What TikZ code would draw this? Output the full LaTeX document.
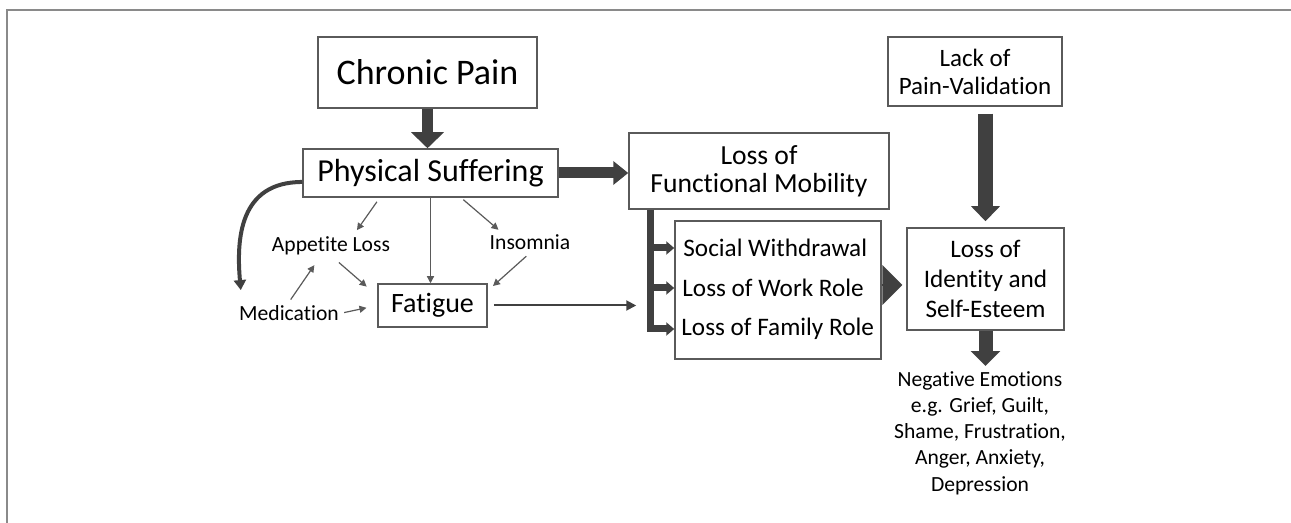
\documentclass[tikz,border=0pt]{standalone}
\usepackage{fontspec}
\setmainfont{Carlito}[Ligatures=NoCommon]
\usetikzlibrary{arrows.meta}
\definecolor{boxgray}{HTML}{5A5A5A}
\definecolor{arrowgray}{HTML}{404040}
\definecolor{framegray}{HTML}{8A8A8A}

\begin{document}
\begin{tikzpicture}[x=0.5pt,y=-0.5pt,
  box/.style={draw=boxgray,line width=0.75pt,align=center,inner sep=0pt},
  lbl/.style={font=\fontsize{10.8}{13.1}\selectfont,inner sep=1.5pt,align=center},
  rolelbl/.style={font=\fontsize{12.6}{15}\selectfont,inner sep=0pt,anchor=west},
  blockarrow/.style={arrowgray,line width=5.5pt,-{Triangle[width=16pt,length=8pt]}},
  branch/.style={arrowgray,line width=3.5pt,-{Triangle[width=6.5pt,length=4pt]}},
  smallarrow/.style={boxgray,line width=0.6pt,-{Triangle[width=3.5pt,length=3.5pt]}}]
\useasboundingbox (0,0) rectangle (1291,523);
\draw[framegray,line width=1pt] (7,523) -- (7,10.5) -- (1291,10.5);

% boxes
\node[box,minimum width=109.5pt,minimum height=35.5pt,font=\fontsize{18}{21}\selectfont] (pain) at (427.5,72.5) {Chronic Pain};
\node[box,minimum width=127.5pt,minimum height=24pt,font=\fontsize{16}{19}\selectfont] (suffer) at (430.5,173) {Physical Suffering};
\node[box,minimum width=130pt,minimum height=38pt,font=\fontsize{13.8}{14}\selectfont] (mobility) at (759,171) {Loss of\\Functional Mobility};
\node[box,minimum width=87pt,minimum height=34.5pt,font=\fontsize{12.5}{14}\selectfont] (validation) at (975,71.5) {Lack of\\Pain-Validation};
\node[box,minimum width=78.5pt,minimum height=51pt,font=\fontsize{12.6}{15}\selectfont] (identity) at (985.5,279) {Loss of\\Identity and\\Self-Esteem};
\node[box,minimum width=103pt,minimum height=69pt] (roles) at (778,290) {};
\node[rolelbl] (social) at (683,248) {Social Withdrawal};
\node[rolelbl] (work) at (682,288) {Loss of Work Role};
\node[rolelbl] (family) at (681,329) {Loss of Family Role};
\node[box,minimum width=54.5pt,minimum height=21.5pt,font=\fontsize{14}{17}\selectfont] (fatigue) at (432.5,305.5) {Fatigue};

% plain labels
\node[lbl] (appetite) at (331,246) {Appetite Loss};
\node[lbl] (insomnia) at (530,242) {Insomnia};
\node[lbl] (medication) at (289,313) {Medication};
\node[lbl] (emotions) at (980,433) {Negative Emotions\\e.g. Grief, Guilt,\\Shame, Frustration,\\Anger, Anxiety,\\Depression};

% thick arrows
\draw[blockarrow] (pain.south) -- (pain.south |- suffer.north);
\draw[blockarrow,-{Triangle[width=11.5pt,length=7.5pt]}] (suffer.east) -- (suffer.east -| mobility.west);
\draw[blockarrow,line width=7.5pt,-{Triangle[width=14pt,length=7.5pt]},shorten <=3.5pt,shorten >=3pt] (identity.north |- validation.south) -- (identity.north);
\draw[blockarrow,line width=7pt,-{Triangle[width=14.5pt,length=7.5pt]},shorten >=1pt] (identity.south) -- (identity.south |- emotions.north);
\draw[arrowgray,line width=1pt,-{Triangle[width=20pt,length=10pt]},shorten >=2pt] ([yshift=-3pt]identity.west -| roles.east) -- ([yshift=-3pt]identity.west);

% bracket to the roles
\draw[branch,line join=miter] ([xshift=11.25pt]mobility.south west) coordinate (stem) -- (stem |- family.west) -- (roles.west |- family.west);
\draw[branch] (stem |- social.west) -- (roles.west |- social.west);
\draw[branch] (stem |- work.west) -- (roles.west |- work.west);
\draw[arrowgray,line width=1pt,-{Triangle[width=5pt,length=5pt]},shorten <=3pt,shorten >=7.25pt] (fatigue.east) -- (fatigue.east -| stem);

% thin arrows
\draw[smallarrow,shorten <=2.5pt,shorten >=2pt] (suffer.206) -- (appetite.28);
\draw[smallarrow] (suffer.south) -- (suffer.south |- fatigue.north);
\draw[smallarrow,shorten <=1.5pt,shorten >=1pt] (suffer.-39) -- (insomnia.160);
\draw[smallarrow,shorten <=2.5pt,shorten >=3.5pt] (insomnia.south) -- (fatigue.15);
\draw[smallarrow,shorten <=3pt,shorten >=7pt] (appetite.-75) -- (fatigue.170);
\draw[smallarrow,shorten <=1.5pt,shorten >=4pt] (medication.north) -- (appetite.226);
\draw[smallarrow,shorten <=1pt,shorten >=5.5pt] (medication.east) -- (fatigue.west);
\draw[arrowgray,line width=2pt,-{Triangle[width=6pt,length=5pt]},shorten >=6pt] (suffer.184) to[out=180,in=95,looseness=1.2] ([xshift=3pt]medication.north west);
\end{tikzpicture}
\end{document}
